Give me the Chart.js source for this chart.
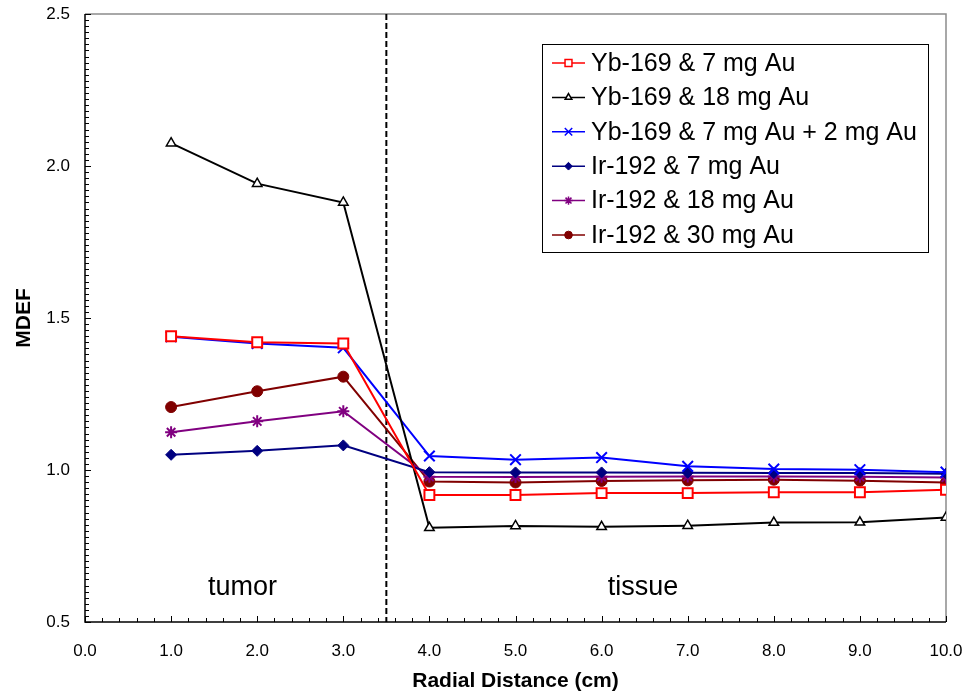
<!DOCTYPE html>
<html>
<head>
<meta charset="utf-8">
<script src="https://cdn.jsdelivr.net/npm/chart.js@4.4.1/dist/chart.umd.min.js"></script>
<style>
  html, body { margin: 0; padding: 0; background: #fff; }
  #chart { display: block; }
</style>
</head>
<body>
<canvas id="chart" width="967" height="694"></canvas>
<script>
// radial distance (cm)
const radialDistance = [1, 2, 3, 4, 5, 6, 7, 8, 9, 10];

// MDEF values
const yb169_7mg      = [1.440, 1.420, 1.416, 0.918, 0.918, 0.924, 0.924, 0.927, 0.927, 0.935];
const yb169_18mg     = [2.075, 1.942, 1.880, 0.810, 0.816, 0.813, 0.817, 0.827, 0.828, 0.844];
const yb169_7mg_2mg  = [1.438, 1.416, 1.402, 1.046, 1.034, 1.041, 1.012, 1.003, 1.001, 0.993];
const ir192_7mg      = [1.050, 1.063, 1.081, 0.993, 0.992, 0.992, 0.991, 0.990, 0.990, 0.988];
const ir192_18mg     = [1.124, 1.160, 1.193, 0.978, 0.977, 0.978, 0.979, 0.979, 0.978, 0.975];
const ir192_30mg     = [1.207, 1.259, 1.307, 0.962, 0.959, 0.964, 0.966, 0.968, 0.965, 0.959];

const seriesLabels = [
  'Yb-169 & 7 mg Au',
  'Yb-169 & 18 mg Au',
  'Yb-169 & 7 mg Au + 2 mg Au',
  'Ir-192 & 7 mg Au',
  'Ir-192 & 18 mg Au',
  'Ir-192 & 30 mg Au'
];

const xTicks = [0, 1, 2, 3, 4, 5, 6, 7, 8, 9, 10];
const yTicks = [0.5, 1.0, 1.5, 2.0, 2.5];

// tumor / tissue boundary
const boundaryX = 3.5;
const regionLabels = ['tumor', 'tissue'];

const FONT = '"Liberation Sans", Arial, sans-serif';

const toPoints = (ys) => ys.map((y, i) => ({ x: radialDistance[i], y: y }));

const mkSet = (label, values, color, style, radius, fill, bw) => ({
  label: label,
  data: toPoints(values),
  borderColor: color,
  backgroundColor: color,
  borderWidth: 2,
  pointStyle: style,
  pointRadius: radius,
  pointHoverRadius: radius,
  pointBorderColor: color,
  pointBackgroundColor: fill,
  pointBorderWidth: bw,
  tension: 0,
  showLine: true,
  fill: false
});

const datasets = [
  mkSet(seriesLabels[0], yb169_7mg, '#FF0000', 'rect', 7, '#FFFFFF', 2),
  mkSet(seriesLabels[1], yb169_18mg, '#000000', 'triangle', 5.5, '#FFFFFF', 1.5),
  mkSet(seriesLabels[2], yb169_7mg_2mg, '#0000FF', 'crossRot', 7.5, '#0000FF', 2),
  mkSet(seriesLabels[3], ir192_7mg, '#000080', 'rectRot', 5.5, '#000080', 1),
  mkSet(seriesLabels[4], ir192_18mg, '#800080', 'star', 6, '#800080', 2),
  mkSet(seriesLabels[5], ir192_30mg, '#800000', 'circle', 5.5, '#800000', 1)
];

const decorPlugin = {
  id: 'decor',
  beforeDatasetsDraw(chart) {
    const ctx = chart.ctx;
    const xs = chart.scales.x, ys = chart.scales.y;
    const a = chart.chartArea;
    ctx.save();
    // gray top / right frame
    ctx.strokeStyle = '#8c8c8c';
    ctx.lineWidth = 1.5;
    ctx.beginPath();
    ctx.moveTo(a.left, a.top);
    ctx.lineTo(a.right, a.top);
    ctx.lineTo(a.right, a.bottom);
    ctx.stroke();

    // dashed boundary
    const bx = xs.getPixelForValue(boundaryX);
    ctx.strokeStyle = '#000';
    ctx.lineWidth = 2;
    ctx.setLineDash([6, 3]);
    ctx.beginPath();
    ctx.moveTo(bx, a.top);
    ctx.lineTo(bx, a.bottom);
    ctx.stroke();
    ctx.setLineDash([]);

    // region labels
    ctx.fillStyle = '#000';
    ctx.font = '27px ' + FONT;
    ctx.textAlign = 'center';
    ctx.textBaseline = 'alphabetic';
    ctx.fillText(regionLabels[0], xs.getPixelForValue(1.83), ys.getPixelForValue(0.589));
    ctx.fillText(regionLabels[1], xs.getPixelForValue(6.48), ys.getPixelForValue(0.589));
    ctx.restore();
  },
  afterDraw(chart) {
    const ctx = chart.ctx;
    const xs = chart.scales.x, ys = chart.scales.y;
    const a = chart.chartArea;
    ctx.save();
    // axes
    ctx.strokeStyle = '#000';
    ctx.lineWidth = 1.5;
    ctx.beginPath();
    ctx.moveTo(a.left, a.top);
    ctx.lineTo(a.left, a.bottom);
    ctx.lineTo(a.right, a.bottom);
    ctx.stroke();

    // inward ticks
    ctx.lineWidth = 1;
    ctx.beginPath();
    for (let i = 0; i <= 50; i++) {
      const v = i * 0.2;
      const px = Math.round(xs.getPixelForValue(v)) + 0.5;
      const len = (i % 5 === 0) ? 6 : 4;
      ctx.moveTo(px, a.bottom);
      ctx.lineTo(px, a.bottom - len);
    }
    for (let i = 0; i <= 100; i++) {
      const v = 0.5 + i * 0.02;
      const py = Math.round(ys.getPixelForValue(v)) + 0.5;
      const len = (i % 25 === 0) ? 6 : 4;
      ctx.moveTo(a.left, py);
      ctx.lineTo(a.left + len, py);
    }
    ctx.stroke();

    // legend box
    const lx = 542, ly = 44, lw = 386, lh = 208;
    ctx.fillStyle = '#fff';
    ctx.fillRect(lx, ly, lw, lh);
    ctx.strokeStyle = '#000';
    ctx.lineWidth = 1;
    ctx.strokeRect(lx + 0.5, ly + 0.5, lw, lh);
    ctx.font = '25px ' + FONT;
    ctx.textAlign = 'left';
    ctx.textBaseline = 'middle';
    chart.data.datasets.forEach((ds, i) => {
      const ry = 63 + i * 34.4;
      ctx.strokeStyle = ds.borderColor;
      ctx.lineWidth = 1.5;
      ctx.beginPath();
      ctx.moveTo(552, ry);
      ctx.lineTo(585, ry);
      ctx.stroke();
      if (Chart.helpers && Chart.helpers.drawPoint) {
        ctx.fillStyle = ds.pointBackgroundColor;
        ctx.strokeStyle = ds.pointBorderColor;
        ctx.lineWidth = Math.min(ds.pointBorderWidth, 1.5);
        Chart.helpers.drawPoint(ctx, {
          pointStyle: ds.pointStyle,
          radius: ds.pointRadius * 0.7,
          rotation: 0,
          borderWidth: ctx.lineWidth
        }, 568.5, ry);
      }
      ctx.fillStyle = '#000';
      ctx.fillText(ds.label, 591, ry + 1);
    });
    ctx.restore();
  }
};

new Chart(document.getElementById('chart'), {
  type: 'scatter',
  data: { datasets: datasets },
  options: {
    responsive: false,
    animation: false,
    devicePixelRatio: 1,
    layout: { padding: { top: 14, right: 21, left: 0, bottom: 0 } },
    plugins: {
      legend: { display: false },
      tooltip: { enabled: false }
    },
    scales: {
      x: {
        type: 'linear',
        min: 0,
        max: 10,
        afterBuildTicks: (scale) => { scale.ticks = xTicks.map(v => ({ value: v })); },
        afterFit: (scale) => {
          scale.height = 72;
          scale.paddingLeft = 0;
          scale.paddingRight = 0;
        },
        ticks: {
          callback: (v) => Number(v).toFixed(1),
          color: '#000',
          font: { family: FONT, size: 17 },
          padding: 19,
          maxRotation: 0,
          autoSkip: false
        },
        grid: { display: false, drawTicks: false },
        border: { display: false },
        title: {
          display: true,
          text: 'Radial Distance (cm)',
          color: '#000',
          font: { family: FONT, size: 21, weight: 'bold' },
          padding: { top: 0, bottom: 0 }
        }
      },
      y: {
        type: 'linear',
        min: 0.5,
        max: 2.5,
        afterBuildTicks: (scale) => { scale.ticks = yTicks.map(v => ({ value: v })); },
        afterFit: (scale) => {
          scale.width = 85;
          scale.paddingTop = 0;
          scale.paddingBottom = 0;
        },
        ticks: {
          callback: (v) => Number(v).toFixed(1),
          color: '#000',
          font: { family: FONT, size: 17 },
          padding: 15
        },
        grid: { display: false, drawTicks: false },
        border: { display: false },
        title: {
          display: true,
          text: 'MDEF',
          color: '#000',
          font: { family: FONT, size: 21, weight: 'bold' },
          padding: { top: 12, bottom: 0 }
        }
      }
    }
  },
  plugins: [decorPlugin]
});
</script>
</body>
</html>
